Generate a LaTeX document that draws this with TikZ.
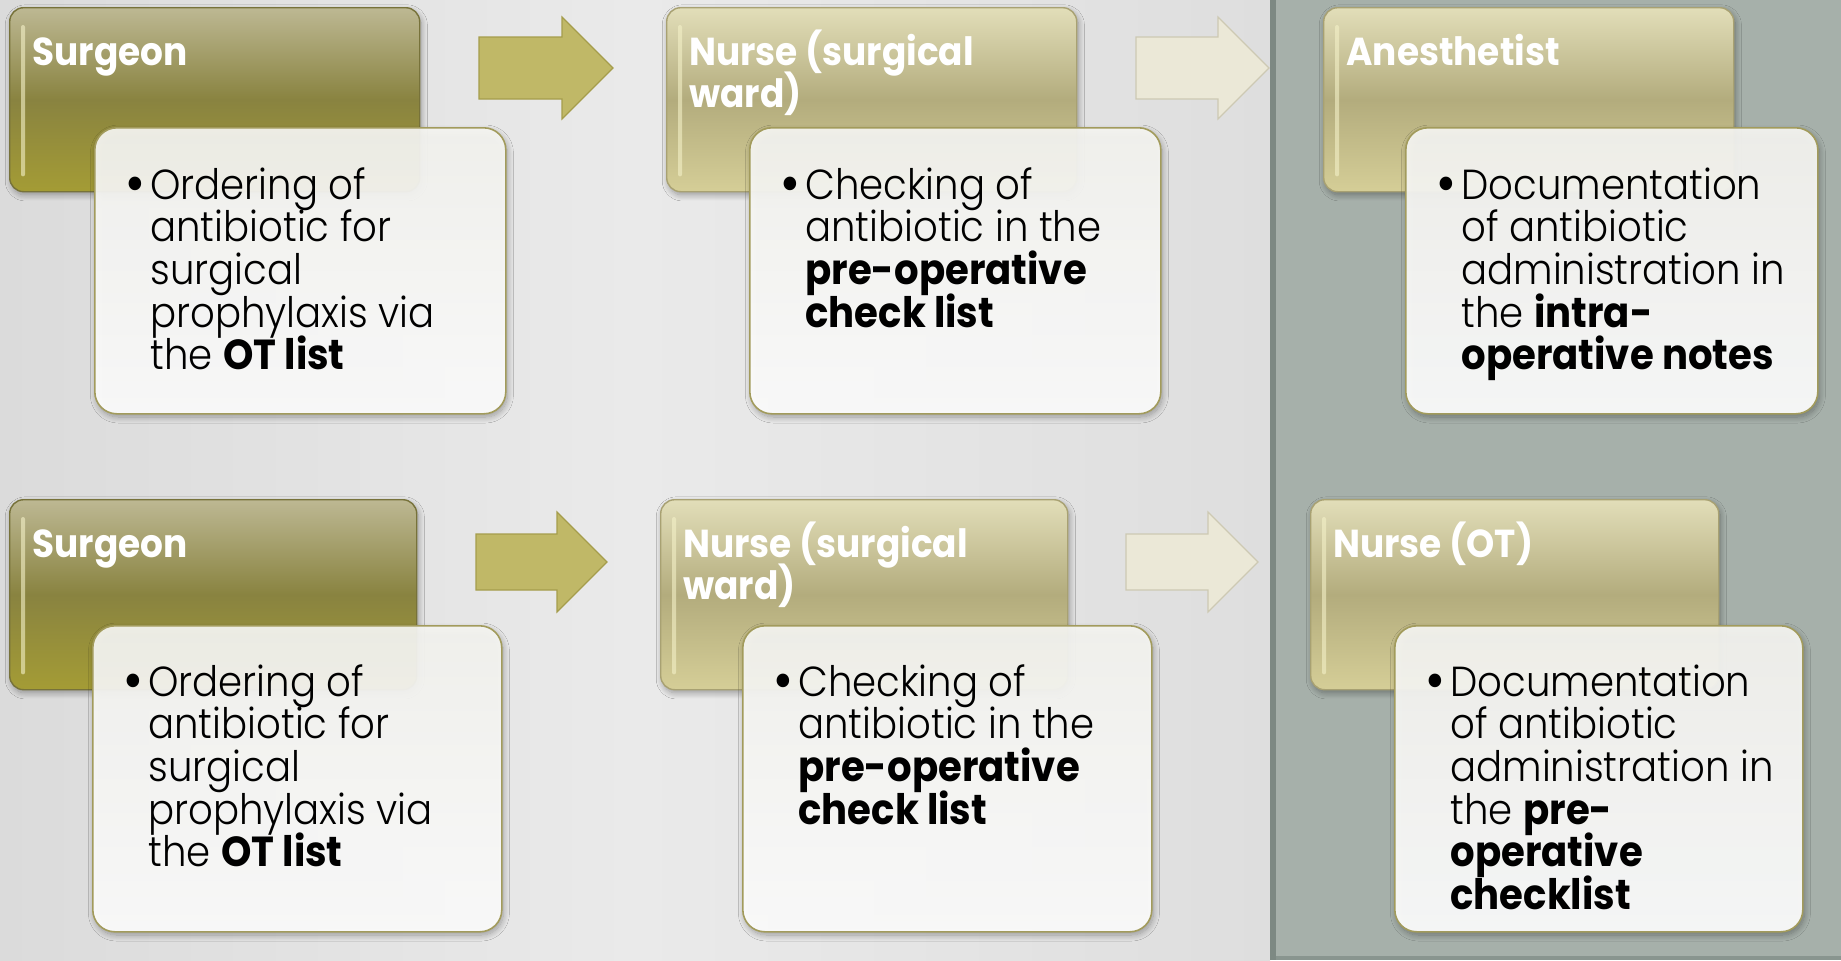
\documentclass[tikz,border=0pt]{standalone}
\usepackage{fontspec}
\IfFontExistsTF{Poppins Light}
  {\setmainfont{Poppins}[UprightFont={* Light},BoldFont={* Bold},FakeStretch=0.92]}
  {\setmainfont{Poppins}[FakeStretch=0.92]}
\usetikzlibrary{calc,shadows.blur}

\definecolor{bgEdge}{HTML}{DBDBDB}
\definecolor{bgMid}{HTML}{EAEAEA}
\definecolor{panel}{HTML}{A6B0AA}
\definecolor{panelRule}{HTML}{7D8983}
\definecolor{oliveTop}{HTML}{BDB893}
\definecolor{oliveMid}{HTML}{898340}
\definecolor{oliveBot}{HTML}{A49C35}
\definecolor{oliveLine}{HTML}{77723A}
\definecolor{khakiTop}{HTML}{E2DEB9}
\definecolor{khakiMid}{HTML}{B3AC7D}
\definecolor{khakiBot}{HTML}{D5CE97}
\definecolor{khakiLine}{HTML}{A8A172}
\definecolor{glossTint}{HTML}{F4F1C8}
\definecolor{cardLine}{HTML}{A29B5C}
\definecolor{cardTop}{HTML}{F6F6F2}
\definecolor{cardBot}{HTML}{FFFFFF}
\definecolor{arrowOlive}{HTML}{C0B867}
\definecolor{arrowOliveLine}{HTML}{A59D4C}
\definecolor{arrowCream}{HTML}{EBE8D7}
\definecolor{arrowCreamLine}{HTML}{CDC9B3}

% text blocks: the font and line spacing are set inside the box
\newcommand\cardtext[1]{\parbox[t]{190pt}{\fontsize{21}{21.35}\selectfont
  \lineskiplimit=-30pt\lineskip=0pt #1}}
\newcommand\roletext[1]{\parbox[t]{200pt}{\fontsize{19.5}{21}\selectfont\bfseries
  \lineskiplimit=-30pt\lineskip=0pt #1}}
\newcommand\bul{\leavevmode\llap{\raisebox{-0.1em}{\scalebox{1.4}{\textbullet}}\hspace{2.5pt}}}
% block arrow: style, tail centre, length, half shaft height, half head height
\newcommand\procarrow[5]{%
  \draw[#1] (#2) ++(0,-#4) -- ++({#3-#5},0) -- ++(0,{#4-#5}) -- ++(#5,#5)
    -- ++(-#5,#5) -- ++(0,{#4-#5}) -- ++({#5-#3},0) -- cycle;}

\tikzset{
  boxshadow/.style={blur shadow={shadow xshift=0.8pt,shadow yshift=-1.6pt,
      shadow blur radius=3pt,shadow blur steps=10,shadow opacity=35}},
  rolebox/.style={anchor=north west,inner sep=0pt,rounded corners=7pt,
      line width=0.7pt,boxshadow},
  darkrole/.style={rolebox,draw=oliveLine,top color=oliveTop,
      bottom color=oliveBot,middle color=oliveMid},
  lightrole/.style={rolebox,draw=khakiLine,top color=khakiTop,
      bottom color=khakiBot,middle color=khakiMid},
  card/.style={anchor=north west,inner sep=0pt,rounded corners=11pt,
      draw=cardLine,line width=0.8pt,top color=cardTop,bottom color=cardBot,
      fill opacity=0.93,boxshadow},
  gloss/.style={fill=glossTint,fill opacity=0.6,rounded corners=1pt},
  headtext/.style={anchor=base west,inner sep=0pt,text=white},
  bodytext/.style={anchor=base west,inner sep=0pt,text=black},
  oliveArrow/.style={fill=arrowOlive,draw=arrowOliveLine,line width=0.6pt,
      line join=miter},
  creamArrow/.style={fill=arrowCream,draw=arrowCreamLine,line width=0.6pt,
      line join=miter},
}

\begin{document}
\begin{tikzpicture}[x=0.5pt,y=-0.5pt]
\useasboundingbox (0,0) rectangle (1841,960);

% backdrop: light left field, grey-green right panel
\shade[left color=bgEdge,right color=bgEdge!80!bgMid,middle color=bgMid]
  (0,0) rectangle (1270,960);
\fill[panel] (1270,0) rectangle (1841,960);
\fill[panelRule] (1270,0) rectangle (1276,960);
\fill[panelRule!70!panel] (1276,956) rectangle (1841,960);

% ---------------- upper process ----------------
\node[darkrole,minimum width=205pt,minimum height=92pt] (s1) at (9,7) {};
\fill[gloss] ($(s1.north west)+(12,18)$) rectangle ($(s1.south west)+(16,-16)$);
\node[headtext] (h1) at ($(s1.north west)+(23,58)$) {\roletext{Surgeon}};
\node[card,minimum width=205.5pt,minimum height=143pt] (w1) at (94,127) {};
\node[bodytext] (b1) at ($(w1.north west)+(56,72)$)
  {\cardtext{\bul Ordering of\\antibiotic for\\surgical\\prophylaxis via\\the \textbf{OT list}}};

\coordinate (a1) at (479,68);
\procarrow{oliveArrow}{a1}{134}{31}{51}

\node[lightrole,minimum width=205pt,minimum height=92pt] (s2) at (666,7) {};
\fill[gloss] ($(s2.north west)+(12,18)$) rectangle ($(s2.south west)+(16,-16)$);
\node[headtext] (h2) at ($(s2.north west)+(23,58)$) {\roletext{Nurse (surgical\\ward)}};
\node[card,minimum width=205.5pt,minimum height=143pt] (w2) at (749,127) {};
\node[bodytext] (b2) at ($(w2.north west)+(56,72)$)
  {\cardtext{\bul Checking of\\antibiotic in the\\\textbf{pre-operative}\\\textbf{check list}}};

\coordinate (a2) at (1136,68);
\procarrow{creamArrow}{a2}{133}{31}{51}

\node[lightrole,minimum width=205pt,minimum height=92pt] (s3) at (1323,7) {};
\fill[gloss] ($(s3.north west)+(12,18)$) rectangle ($(s3.south west)+(16,-16)$);
\node[headtext] (h3) at ($(s3.north west)+(23,58)$) {\roletext{Anesthetist}};
\node[card,minimum width=206pt,minimum height=143pt] (w3) at (1405,127) {};
\node[bodytext] (b3) at ($(w3.north west)+(56,72)$)
  {\cardtext{\bul Documentation\\of antibiotic\\administration in\\the \textbf{intra-}\\\textbf{operative notes}}};

% ---------------- lower process ----------------
\node[darkrole,minimum width=203.5pt,minimum height=95pt] (s4) at (9,499) {};
\fill[gloss] ($(s4.north west)+(12,18)$) rectangle ($(s4.south west)+(16,-16)$);
\node[headtext] (h4) at ($(s4.north west)+(23,58)$) {\roletext{Surgeon}};
\node[card,minimum width=204.5pt,minimum height=153pt] (w4) at (92,625) {};
\node[bodytext] (b4) at ($(w4.north west)+(56,71)$)
  {\cardtext{\bul Ordering of\\antibiotic for\\surgical\\prophylaxis via\\the \textbf{OT list}}};

\coordinate (a3) at (476,562);
\procarrow{oliveArrow}{a3}{131}{28}{50}

\node[lightrole,minimum width=203.5pt,minimum height=95pt] (s5) at (660,499) {};
\fill[gloss] ($(s5.north west)+(12,18)$) rectangle ($(s5.south west)+(16,-16)$);
\node[headtext] (h5) at ($(s5.north west)+(23,58)$) {\roletext{Nurse (surgical\\ward)}};
\node[card,minimum width=204.5pt,minimum height=153pt] (w5) at (742,625) {};
\node[bodytext] (b5) at ($(w5.north west)+(56,71)$)
  {\cardtext{\bul Checking of\\antibiotic in the\\\textbf{pre-operative}\\\textbf{check list}}};

\coordinate (a4) at (1126,562);
\procarrow{creamArrow}{a4}{132}{28}{50}

\node[lightrole,minimum width=204pt,minimum height=95pt] (s6) at (1310,499) {};
\fill[gloss] ($(s6.north west)+(12,18)$) rectangle ($(s6.south west)+(16,-16)$);
\node[headtext] (h6) at ($(s6.north west)+(23,58)$) {\roletext{Nurse (OT)}};
\node[card,minimum width=204pt,minimum height=153pt] (w6) at (1394,625) {};
\node[bodytext] (b6) at ($(w6.north west)+(56,71)$)
  {\cardtext{\bul Documentation\\of antibiotic\\administration in\\the \textbf{pre-}\\\textbf{operative}\\\textbf{checklist}}};
\end{tikzpicture}
\end{document}
